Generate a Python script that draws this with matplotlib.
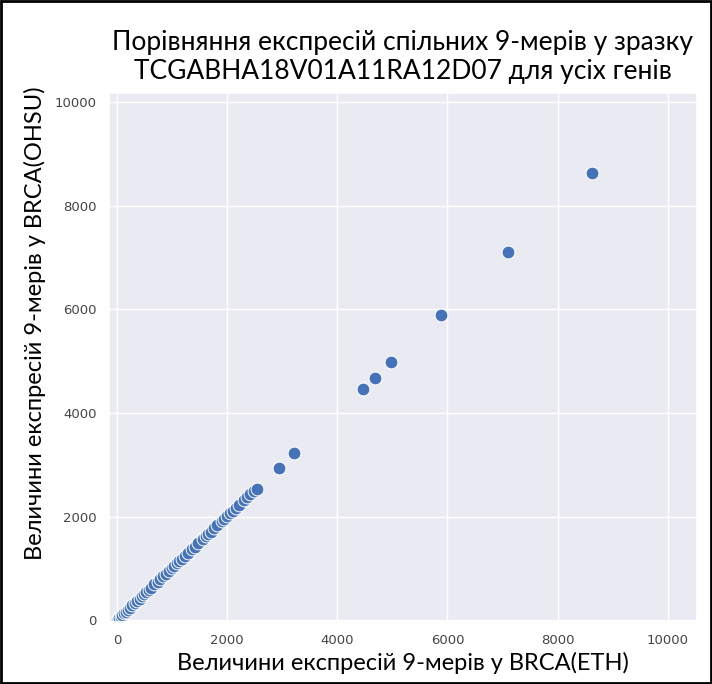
import numpy as np
import matplotlib
matplotlib.use("Agg")
import matplotlib.pyplot as plt
import seaborn as sns

# значення експресій 9-мерів (ETH vs OHSU)
eth = [0, 20, 40, 70, 100, 130, 160, 200, 240, 280, 320, 370, 410, 450, 490, 530,
       580, 620, 680, 740, 790, 840, 890, 940, 1000, 1040, 1090, 1130, 1180, 1230,
       1290, 1360, 1420, 1480, 1560, 1610, 1660, 1700, 1760, 1820, 1900, 1950, 2000,
       2050, 2100, 2160, 2220, 2300, 2360, 2420, 2480, 2540,
       2940, 3210, 4470, 4680, 4980, 5880, 7100, 8630]
ohsu = [0, 20, 40, 70, 100, 130, 160, 200, 240, 290, 330, 370, 410, 460, 500, 540,
        580, 630, 690, 740, 800, 850, 890, 950, 1000, 1050, 1100, 1140, 1190, 1240,
        1300, 1370, 1420, 1490, 1570, 1620, 1670, 1710, 1770, 1830, 1910, 1960, 2010,
        2060, 2110, 2170, 2230, 2310, 2370, 2430, 2490, 2540,
        2940, 3220, 4460, 4680, 4980, 5880, 7110, 8630]

title = "Порівняння експресій спільних 9-мерів у зразку\nTCGABHA18V01A11RA12D07 для усіх генів"
xlabel = "Величини експресій 9-мерів у BRCA(ETH)"
ylabel = "Величини експресій 9-мерів у BRCA(OHSU)"

sns.set_theme(style="darkgrid")
plt.rcParams['font.family'] = ['DejaVu Sans']

fig = plt.figure(figsize=(7.12, 6.84), dpi=100)
ax = fig.add_axes([0.153, 0.091, 0.826, 0.773])
sns.scatterplot(x=eth, y=ohsu, ax=ax, s=85, color="#4572b8", edgecolor="white", linewidth=0.7)

ax.set_xlim(-145, 10530)
ax.set_ylim(-30, 10170)
ax.set_xticks(np.arange(0, 10001, 2000))
ax.set_yticks(np.arange(0, 10001, 2000))
ax.tick_params(labelsize=9.5, labelcolor="#444444", pad=3)

ax.set_title(title, family="Lato", fontsize=19, pad=10, linespacing=1.2, color="black")
ax.set_xlabel(xlabel, family="Lato", fontsize=17, labelpad=3, color="black")
ax.set_ylabel(ylabel, family="Lato", fontsize=17, color="black")
ax.yaxis.set_label_coords(-0.107, 0.565)

# рамка навколо рисунка
fig.patches.append(plt.Rectangle((0.002, 0.002), 0.996, 0.996, transform=fig.transFigure,
                                 fill=False, edgecolor="black", linewidth=2))

fig.savefig("out.png", dpi=100)
